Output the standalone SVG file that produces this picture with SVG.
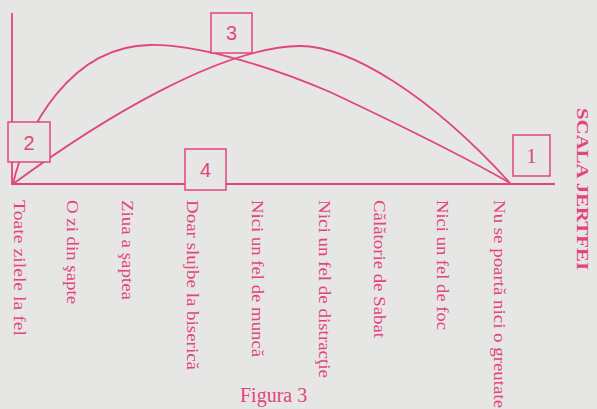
<svg xmlns="http://www.w3.org/2000/svg" width="597" height="409" viewBox="0 0 597 409">
<style>
.ln{fill:none;stroke:#e2457e;stroke-width:1.8}
.bx{fill:#e6e6e4;stroke:#e2457e;stroke-width:1.5}
.num{font-family:"Liberation Sans",Arial,sans-serif;font-size:20px;fill:#e2457e;text-anchor:middle}
.lbl{font-family:"Liberation Serif","Times New Roman",serif;font-size:16px;fill:#e2457e}
</style>
<rect width="597" height="409" fill="#e6e6e4"/>
<g id="connectors">
<path class="ln" d="M12,13 L12,184 L555,184"/>
<path class="ln" d="M13,184 C25,130 70,46 150,45 C190,44 260,62 330,92 C400,125 470,160 510,183"/>
<path class="ln" d="M13,184 C100,120 220,47 300,46 C350,46 430,95 510,183"/>
</g>
<g id="n2"><rect class="bx" x="8" y="122" width="42" height="40"/><text class="num" x="29" y="150">2</text></g>
<g id="n3"><rect class="bx" x="211" y="13" width="41" height="40"/><text class="num" x="231.5" y="40">3</text></g>
<g id="n4"><rect class="bx" x="185" y="149" width="41" height="41"/><text class="num" x="205.5" y="177">4</text></g>
<g id="n1"><rect class="bx" x="513" y="135" width="37" height="41"/><text class="num" x="531.5" y="163" style="font-family:'Liberation Serif',serif">1</text></g>
<g id="labels">
<text class="lbl" transform="translate(14,200) rotate(90)" textLength="136" lengthAdjust="spacingAndGlyphs">Toate zilele la fel</text>
<text class="lbl" transform="translate(67,200) rotate(90)" textLength="104" lengthAdjust="spacingAndGlyphs">O zi din şapte</text>
<text class="lbl" transform="translate(122,200) rotate(90)" textLength="100" lengthAdjust="spacingAndGlyphs">Ziua a şaptea</text>
<text class="lbl" transform="translate(187,200) rotate(90)" textLength="170" lengthAdjust="spacingAndGlyphs">Doar slujbe la biserică</text>
<text class="lbl" transform="translate(252,200) rotate(90)" textLength="157" lengthAdjust="spacingAndGlyphs">Nici un fel de muncă</text>
<text class="lbl" transform="translate(319,200) rotate(90)" textLength="178" lengthAdjust="spacingAndGlyphs">Nici un fel de distracţie</text>
<text class="lbl" transform="translate(374,200) rotate(90)" textLength="138" lengthAdjust="spacingAndGlyphs">Călătorie de Sabat</text>
<text class="lbl" transform="translate(437,200) rotate(90)" textLength="130" lengthAdjust="spacingAndGlyphs">Nici un fel de foc</text>
<text class="lbl" transform="translate(494,200) rotate(90)" textLength="208" lengthAdjust="spacingAndGlyphs">Nu se poartă nici o greutate</text>
<text class="lbl" transform="translate(577,108) rotate(90)" style="font-weight:bold" textLength="162" lengthAdjust="spacingAndGlyphs">SCALA JERTFEI</text>
<text x="240" y="402" style="font-family:'Liberation Serif','Times New Roman',serif;font-size:20px;fill:#e2457e">Figura 3</text>
</g>
</svg>
